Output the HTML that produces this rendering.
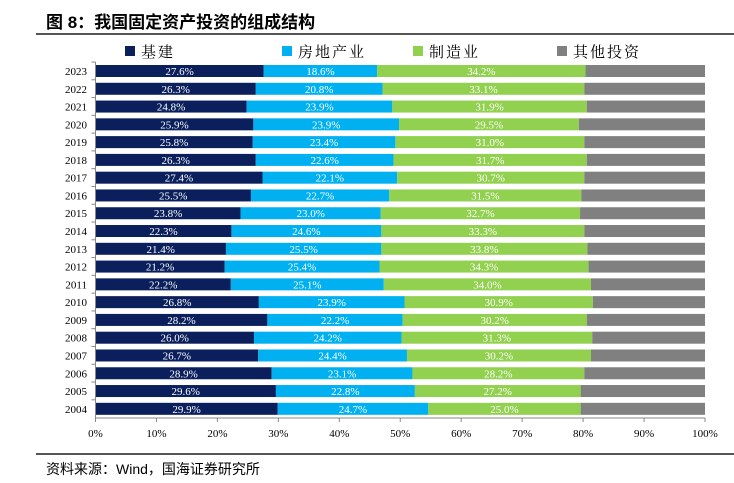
<!DOCTYPE html>
<html><head><meta charset="utf-8"><style>
body{margin:0;width:734px;height:483px;background:#fff;overflow:hidden;font-family:"Liberation Serif","Noto Serif CJK SC",serif}
.t{position:absolute;left:46px;top:8px;font:bold 17px "Liberation Sans","Noto Sans CJK SC",sans-serif;color:#000}
.hl{position:absolute;left:36px;width:698px;height:2px;background:#555}
.src{position:absolute;left:46px;top:459px;font:14px "Liberation Sans","Noto Sans CJK SC",sans-serif;color:#000}
</style></head><body>
<div class="t">图 8：我国固定资产投资的组成结构</div>
<div class="hl" style="top:33px"></div>
<svg id="c" width="734" height="483" style="position:absolute;left:0;top:0"></svg>
<div class="hl" style="top:453px"></div>
<div class="src">资料来源：Wind，国海证券研究所</div>
<script>
const years=["2023","2022","2021","2020","2019","2018","2017","2016","2015","2014","2013","2012","2011","2010","2009","2008","2007","2006","2005","2004"];
const infra=[27.6,26.3,24.8,25.9,25.8,26.3,27.4,25.5,23.8,22.3,21.4,21.2,22.2,26.8,28.2,26.0,26.7,28.9,29.6,29.9];
const realty=[18.6,20.8,23.9,23.9,23.4,22.6,22.1,22.7,23.0,24.6,25.5,25.4,25.1,23.9,22.2,24.2,24.4,23.1,22.8,24.7];
const manuf=[34.2,33.1,31.9,29.5,31.0,31.7,30.7,31.5,32.7,33.3,33.8,34.3,34.0,30.9,30.2,31.3,30.2,28.2,27.2,25.0];
const other=years.map((y,i)=>+(100-infra[i]-realty[i]-manuf[i]).toFixed(1));
const ticks=[0,10,20,30,40,50,60,70,80,90,100];
const seriesNames=["基建","房地产业","制造业","其他投资"];
const colors=["#0a1f5c","#00b0f0","#92d050","#808080"];
const svg=document.getElementById('c');const NS="http://www.w3.org/2000/svg";
const X0=95.5,X1=705,YT=65,STEP=17.78,BH=12;
const xs=v=>X0+(X1-X0)*v/100, yr=i=>YT+i*STEP;
function mk(t,a){const e=document.createElementNS(NS,t);for(const k in a)e.setAttribute(k,a[k]);svg.appendChild(e);return e;}
const data=[infra,realty,manuf,other];
years.forEach((y,i)=>{
 let acc=0;
 data.forEach((s,j)=>{
  const r=mk('rect',{x:xs(acc),y:yr(i),width:xs(acc+s[i])-xs(acc),height:BH,fill:colors[j]});
  
  
  if(j<3){const tx=mk('text',{x:(xs(acc)+xs(acc+s[i]))/2,y:yr(i)+10,'text-anchor':'middle','font-size':11,fill:'#fff'});tx.textContent=s[i].toFixed(1)+'%';
  
  }
  acc+=s[i];
 });
 const l=mk('text',{x:87,y:yr(i)+10,'text-anchor':'end','font-size':11,fill:'#000'});l.textContent=y;
 
 
 mk('line',{x1:X0-4,x2:X0,y1:yr(i)-3,y2:yr(i)-3,stroke:'#888'});
});
mk('line',{x1:X0,x2:X0,y1:YT-3,y2:418,stroke:'#888'});
mk('line',{x1:X0,x2:X1,y1:418,y2:418,stroke:'#888'});
ticks.forEach(t=>{mk('line',{x1:xs(t),x2:xs(t),y1:418,y2:422,stroke:'#888'});
 const e=mk('text',{x:xs(t),y:437,'text-anchor':'middle','font-size':11,fill:'#000'});e.textContent=t+'%';
 
 });
const lx=[125,282,413,557];
seriesNames.forEach((n,j)=>{mk('rect',{x:lx[j],y:46,width:10,height:10,fill:colors[j]});
 const e=mk('text',{x:lx[j]+16,y:57,'font-size':15,fill:'#000','font-family':'"Noto Serif CJK SC",serif','letter-spacing':'2'});e.textContent=n;
 
 });
</script>
</body></html>
